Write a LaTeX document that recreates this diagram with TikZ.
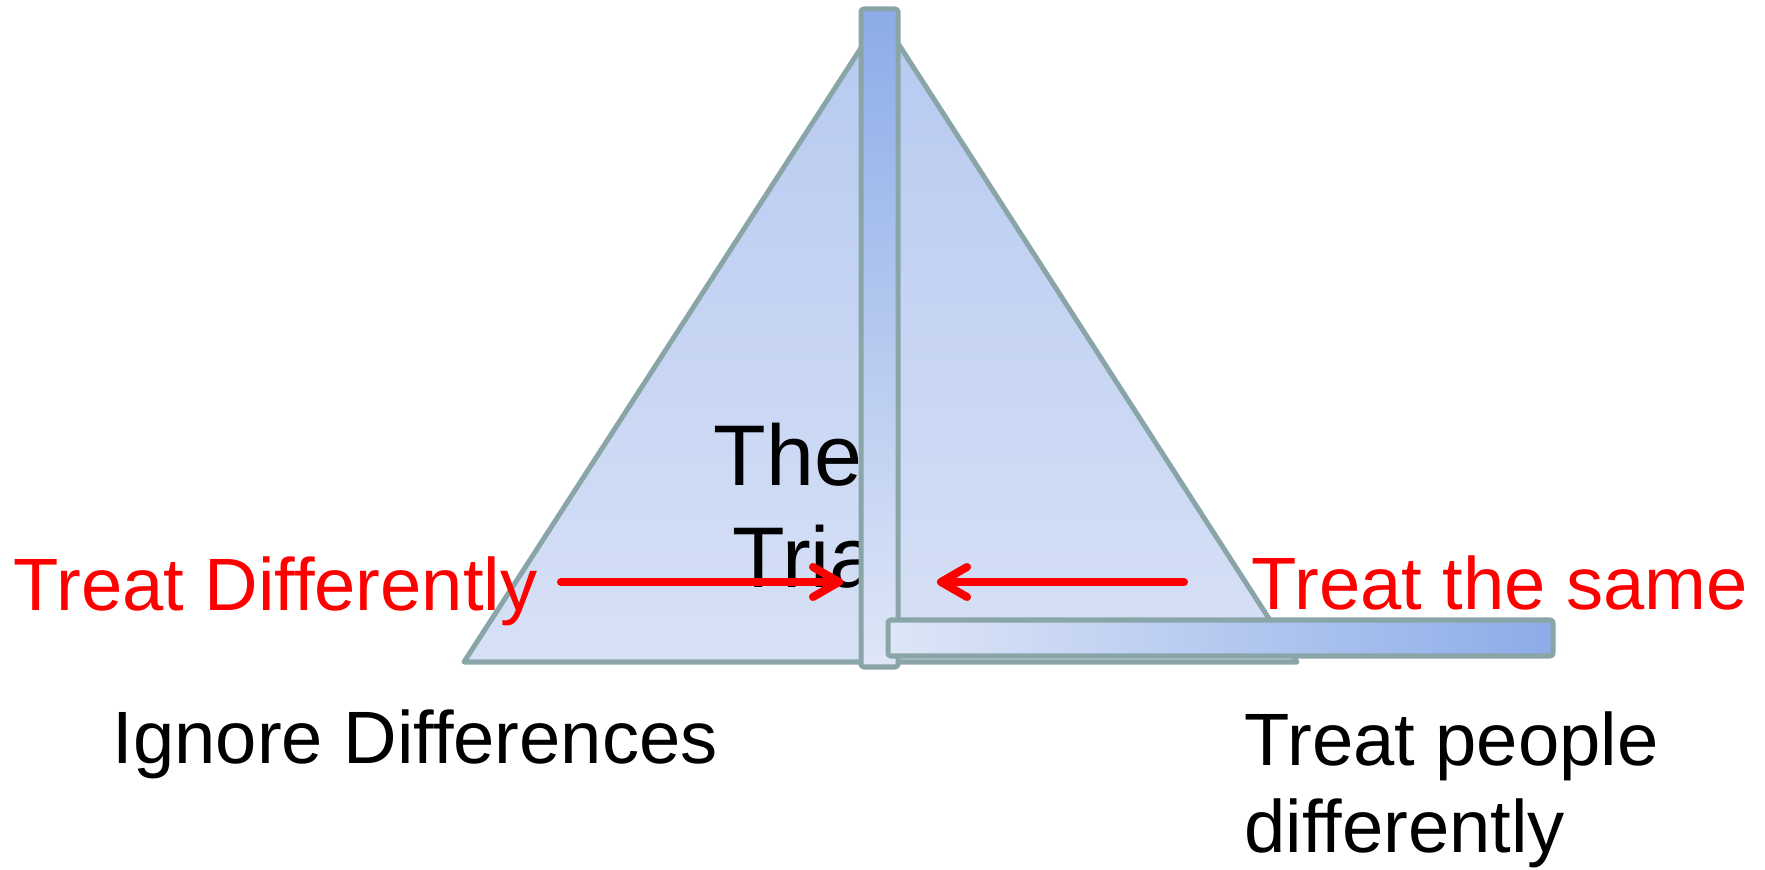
\documentclass[tikz,border=0pt]{standalone}
\usepackage{fontspec}
\setmainfont{Liberation Sans}
\usetikzlibrary{arrows.meta,positioning}
\definecolor{EdgeGray}{RGB}{138,165,168}
\definecolor{BarDeep}{RGB}{140,172,232}
\definecolor{BarPale}{RGB}{222,230,247}
\definecolor{TriTop}{RGB}{182,201,240}
\definecolor{TriLow}{RGB}{215,225,246}
\tikzset{
  frame/.style={draw=EdgeGray,line width=0.05cm,line join=round},
  barbox/.style={frame,rounded corners=0.8pt},
  redlabel/.style={text=red,font=\fontsize{21.1}{25}\selectfont,inner sep=0pt,anchor=base west},
  blacklabel/.style={font=\fontsize{21.1}{25}\selectfont,inner sep=0pt,anchor=base west},
  biglabel/.style={font=\fontsize{24.5}{29}\selectfont,inner sep=0pt,anchor=base west},
  push/.style={-{Straight Barb[length=0.26cm,width=0.3cm,round]},line width=0.08cm,red,line cap=round}
}
\begin{document}
\begin{tikzpicture}[x=0.01cm,y=-0.01cm]
  \useasboundingbox (0,0) rectangle (1765,870);
  % the triangle
  \draw[frame,top color=TriTop,bottom color=TriLow] (881,17) -- (1297,662) -- (464,662) -- cycle;
  \node[biglabel] (theLabel) at (713,486) {The};
  \node[biglabel] (triaLabel) at (732,588) {Tria};
  % the two bars
  \draw[barbox,top color=BarDeep,bottom color=BarPale] (861,9) rectangle (898,667);
  \draw[barbox,left color=BarPale,right color=BarDeep] (888,620) rectangle (1553,656);
  % arrows
  \coordinate (leftTail) at (561,582);
  \coordinate (leftHead) at (843,582);
  \coordinate (rightTail) at (1184,582);
  \coordinate (rightHead) at (937,582);
  \draw[push] (leftTail) -- (leftHead);
  \draw[push] (rightTail) -- (rightHead);
  % labels
  \node[redlabel] (diffLabel) at (13,611) {Treat Differently};
  \node[redlabel] (sameLabel) at (1251,610) {Treat the same};
  \node[blacklabel] (ignoreLabel) at (112,764) {Ignore Differences};
  \node[blacklabel] (peopleLabel) at (1244,765) {Treat people};
  \node[blacklabel] (differentlyLabel) at (1244,853) {differently};
\end{tikzpicture}
\end{document}
